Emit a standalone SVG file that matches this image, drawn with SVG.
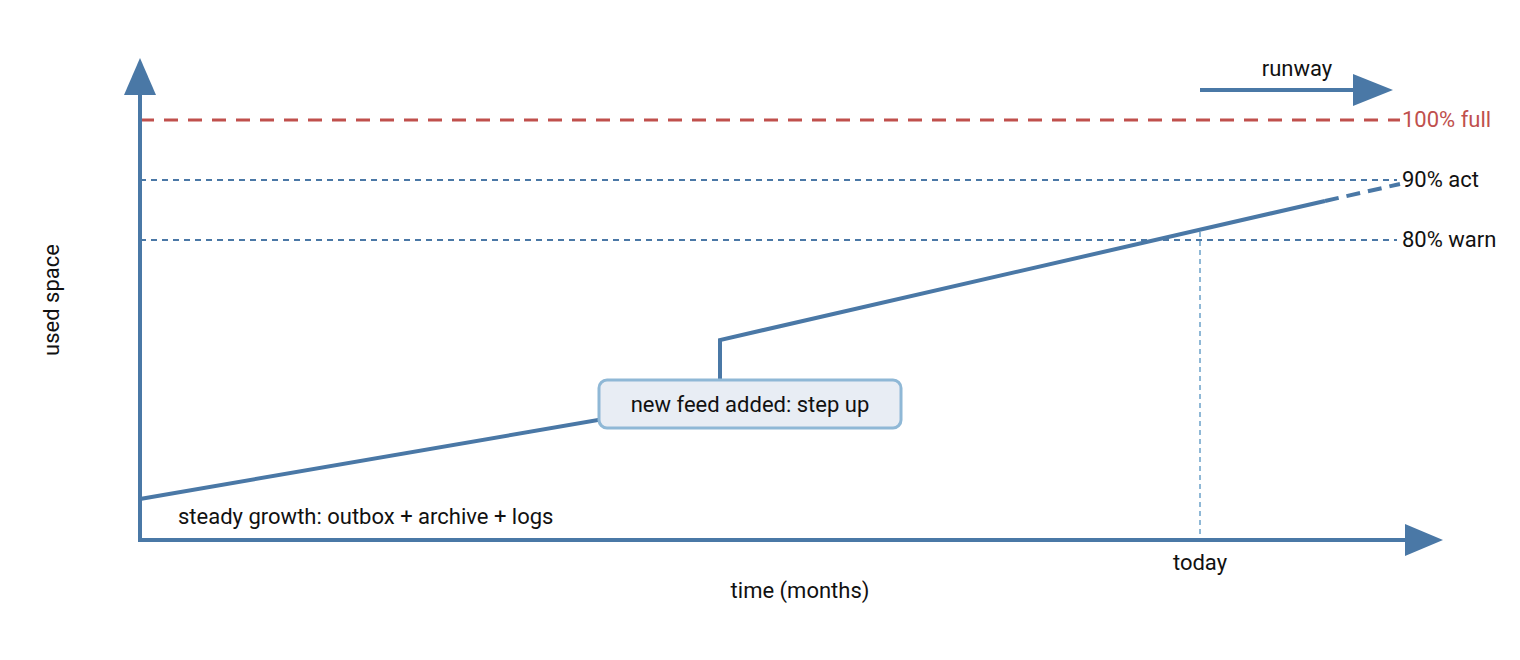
<svg xmlns="http://www.w3.org/2000/svg" width="1520" height="660" viewBox="0 0 1520 660">
<style>
text{font-family:Roboto,"Liberation Sans",sans-serif;font-size:22px;fill:#111}
.ax{stroke:#4a78a6;stroke-width:4;fill:none}
.ah{fill:#4a78a6}
.th{stroke:#4a78a6;stroke-width:2;stroke-dasharray:6 5}
</style>
<rect width="1520" height="660" fill="#fff"/>
<g id="connectors">
<line x1="140" y1="120" x2="1400" y2="120" stroke="#c0504d" stroke-width="3" stroke-dasharray="14 10"/>
<line class="th" x1="140" y1="180" x2="1397" y2="180"/>
<line class="th" x1="140" y1="240" x2="1397" y2="240"/>
<line x1="1200" y1="232" x2="1200" y2="540" stroke="#8fb8d6" stroke-width="2" stroke-dasharray="5 4"/>
<polyline class="ax" points="140,499 720,399"/>
<polyline class="ax" points="720,399 720,340 1325,201"/>
<line class="ax" x1="1325" y1="201" x2="1400" y2="184" stroke-dasharray="14 8"/>
<line class="ax" x1="140" y1="542" x2="140" y2="92"/>
<polygon class="ah" points="140,58 124,95 156,95"/>
<line class="ax" x1="138" y1="540" x2="1408" y2="540"/>
<polygon class="ah" points="1443,540 1405,524 1405,556"/>
<line class="ax" x1="1200" y1="90" x2="1358" y2="90"/>
<polygon class="ah" points="1393,90 1353,74 1353,106"/>
</g>
<g id="note">
<rect x="599" y="380" width="302" height="48" rx="8" fill="#e8edf4" stroke="#8fb8d6" stroke-width="3"/>
<text x="750" y="412" text-anchor="middle">new feed added: step up</text>
</g>
<g id="labels">
<text x="1297" y="76" text-anchor="middle">runway</text>
<text x="1402" y="127" style="fill:#c0504d">100% full</text>
<text x="1402" y="187">90% act</text>
<text x="1402" y="247">80% warn</text>
<text x="178" y="524">steady growth: outbox + archive + logs</text>
<text x="1200" y="570" text-anchor="middle">today</text>
<text x="800" y="598" text-anchor="middle">time (months)</text>
<text transform="translate(59,300) rotate(-90)" text-anchor="middle">used space</text>
</g>
</svg>
